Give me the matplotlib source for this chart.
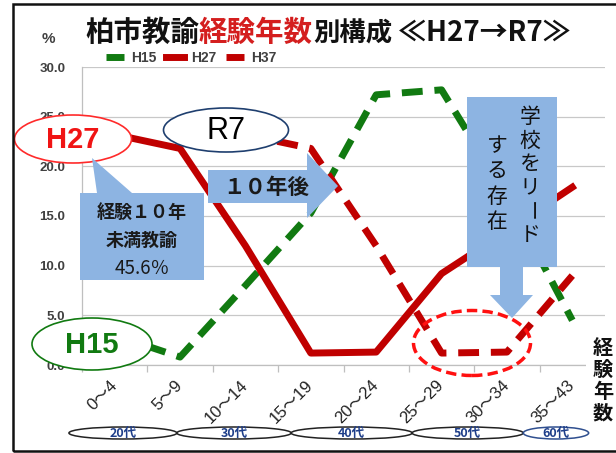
import numpy as np
import matplotlib.pyplot as plt
import matplotlib.transforms as mtransforms
from matplotlib.patches import Ellipse, Polygon, Rectangle

plt.rcParams['font.family'] = ['Noto Sans CJK JP', 'DejaVu Sans']

# data (percent of teachers per years of experience)
years = ['0～4', '5～9', '10～14', '15～19', '20～24', '25～29', '30～34', '35～43']
h15 = [3.0, 0.8, 8.0, 15.3, 27.2, 27.7, 17.0, 4.5]
h27 = [23.2, 21.8, 12.0, 1.2, 1.3, 9.2, 13.5, 17.9]
h37 = [np.nan, np.nan, 23.2, 21.8, 12.0, 1.2, 1.3, 9.0]
ages = ['20代', '30代', '40代', '50代', '60代']
age_edges = [-0.7, 0.95, 2.7, 4.55, 6.25, 7.25]

GREEN = '#117A11'
RED = '#C00000'
BLUE = '#8DB4E2'
LATIN = ['Liberation Sans', 'Noto Sans CJK JP']

W, H = 616, 453
fig = plt.figure(figsize=(W / 100, H / 100), dpi=100)
ax = fig.add_axes([82 / W, 1 - 365 / H, 523 / W, 298 / H])


def px(x, y):
    # pixel position in the picture -> figure fraction
    return (x / W, 1 - y / H)


x = np.arange(len(years))
ax.plot(x, h15, color=GREEN, lw=5, ls=(0, (3, 1.7)), label='H15', zorder=3)
ax.plot(x, h27, color=RED, lw=5, label='H27', zorder=3)
ax.plot(x, h37, color=RED, lw=5, ls=(0, (3, 1.7)), label='H37', zorder=3)

ax.set_xlim(-0.5, len(years) - 0.5)
ax.set_ylim(0, 30)
ax.set_yticks(np.arange(0, 31, 5))
ax.set_yticklabels([f'{v:.1f}' for v in np.arange(0, 31, 5)],
                   fontsize=9.5, fontweight='bold', color='#404040', family=LATIN)
ax.tick_params(axis='y', length=0, pad=12)
ax.grid(axis='y', color='#C8C8C8', lw=0.9)
ax.set_axisbelow(True)
for s in ['top', 'right']:
    ax.spines[s].set_visible(False)
for s in ['left', 'bottom']:
    ax.spines[s].set_color('#BFBFBF')
    ax.spines[s].set_linewidth(0.9)

ax.set_xticks(x)
ax.set_xticklabels(years, rotation=45, ha='right', va='center',
                   rotation_mode='anchor', fontsize=12, color='#222222', family=LATIN)
ax.tick_params(axis='x', length=0, pad=13)
ax.set_xticks(np.arange(-0.5, len(years), 1), minor=True)
ax.tick_params(axis='x', which='minor', length=5, color='#BFBFBF', width=0.9)

# title, middle word in red
t1 = fig.text(*px(85, 33), '柏市教諭', va='center', ha='left', color='#111111',
              fontsize=20.5, fontweight='bold')
prev = t1
for txt, col, fs in [('経験年数', '#D41E1E', 20.5), ('別構成', '#111111', 19),
                     (' ≪H27→R7≫', '#111111', 20)]:
    prev = ax.annotate(txt, xy=(1, 0), xycoords=prev, va='bottom', ha='left',
                       color=col, fontsize=fs, fontweight='bold', annotation_clip=False)

fig.text(*px(48, 39), '%', fontsize=11, fontweight='bold', color='#404040',
         ha='center', va='center', family=LATIN)

fig.legend(loc='center left', bbox_to_anchor=px(106, 58), ncol=3, frameon=False,
           handlelength=1.3, handletextpad=0.5, columnspacing=0.7,
           borderpad=0, borderaxespad=0,
           prop={'weight': 'bold', 'size': 10, 'family': LATIN})
for t in fig.legends[0].get_texts():
    t.set_color('#404040')

# age group ovals under the axis
btrans = mtransforms.blended_transform_factory(ax.transData, fig.transFigure)
for i, a in enumerate(ages):
    c = (age_edges[i] + age_edges[i + 1]) / 2
    ec = '#2F4F8F' if i == len(ages) - 1 else '#222222'
    fig.add_artist(Ellipse((c, 1 - 433 / H), age_edges[i + 1] - age_edges[i], 12 / H,
                           transform=btrans, fc='none', ec=ec, lw=1.1))
    fig.text(c, 1 - 433 / H, a, transform=btrans, ha='center', va='center',
             fontsize=9, fontweight='bold', color='#1F3F8A')

# vertical axis title on the right
for i, ch in enumerate('経験年数'):
    fig.text(*px(603, 348 + i * 21.5), ch, ha='center', va='center', fontsize=14.5,
             fontweight='bold', color='#111111')
fig.add_artist(Rectangle(px(586, 425), 30 / W, 95 / H, transform=fig.transFigure,
                         fc='white', ec='none', zorder=0.5))

# callouts
def ellipse(cx, cy, w, h, ec, ls='-', lw=1.2, fc='white'):
    fig.add_artist(Ellipse(px(cx, cy), w / W, h / H, transform=fig.transFigure,
                           fc=fc, ec=ec, lw=lw, ls=ls))


def poly(pts):
    fig.add_artist(Polygon([px(*p) for p in pts], closed=True,
                           transform=fig.transFigure, fc=BLUE, ec='none'))


ellipse(73, 139, 117, 48, '#FF2A2A')
fig.text(*px(73, 140), 'H27', ha='center', va='center', fontsize=21,
         fontweight='bold', color='#F01414', family=LATIN)

ellipse(92, 344, 120, 52, GREEN)
fig.text(*px(92, 345), 'H15', ha='center', va='center', fontsize=21,
         fontweight='bold', color=GREEN, family=LATIN)

ellipse(226, 130, 125, 44, '#1F3F6F')
fig.text(*px(226, 131), 'R7', ha='center', va='center', fontsize=22,
         color='#000000', family=LATIN)

ellipse(472, 343, 117, 65, '#FF1010', ls=(0, (3, 1.5)), lw=2.5, fc='none')

poly([(80, 193), (97, 193), (92, 158), (132, 193), (204, 193), (204, 280), (80, 280)])
fig.text(*px(142, 212), '経験１０年', ha='center', va='center', fontsize=13,
         fontweight='bold', color='#1A1A1A')
fig.text(*px(142, 240), '未満教諭', ha='center', va='center', fontsize=13,
         fontweight='bold', color='#1A1A1A')
fig.text(*px(142, 268), '45.6％', ha='center', va='center', fontsize=13.5,
         color='#1A1A1A')

poly([(208, 170), (307, 170), (307, 153), (338, 186), (307, 218), (307, 203), (208, 203)])
fig.text(*px(266, 187), '１０年後', ha='center', va='center', fontsize=15.5,
         fontweight='bold', color='#1A1A1A')

poly([(467, 97), (557, 97), (557, 267), (523, 267), (523, 295), (533, 295),
      (512, 318), (490, 295), (500, 295), (500, 267), (467, 267)])
for i, ch in enumerate('学校をリード'):
    fig.text(*px(530, 117 + i * 23.5), ch, ha='center', va='center', fontsize=15,
             color='#111111', rotation=-90 if ch == 'ー' else 0)
for i, ch in enumerate('する存在'):
    fig.text(*px(497, 146 + i * 25.5), ch, ha='center', va='center', fontsize=15,
             color='#111111')

# outer frame
fig.add_artist(Rectangle(px(13, 451), 640 / W, 447 / H, transform=fig.transFigure,
                         fc='none', ec='#111111', lw=1.8))

fig.savefig('out.png', dpi=100)
